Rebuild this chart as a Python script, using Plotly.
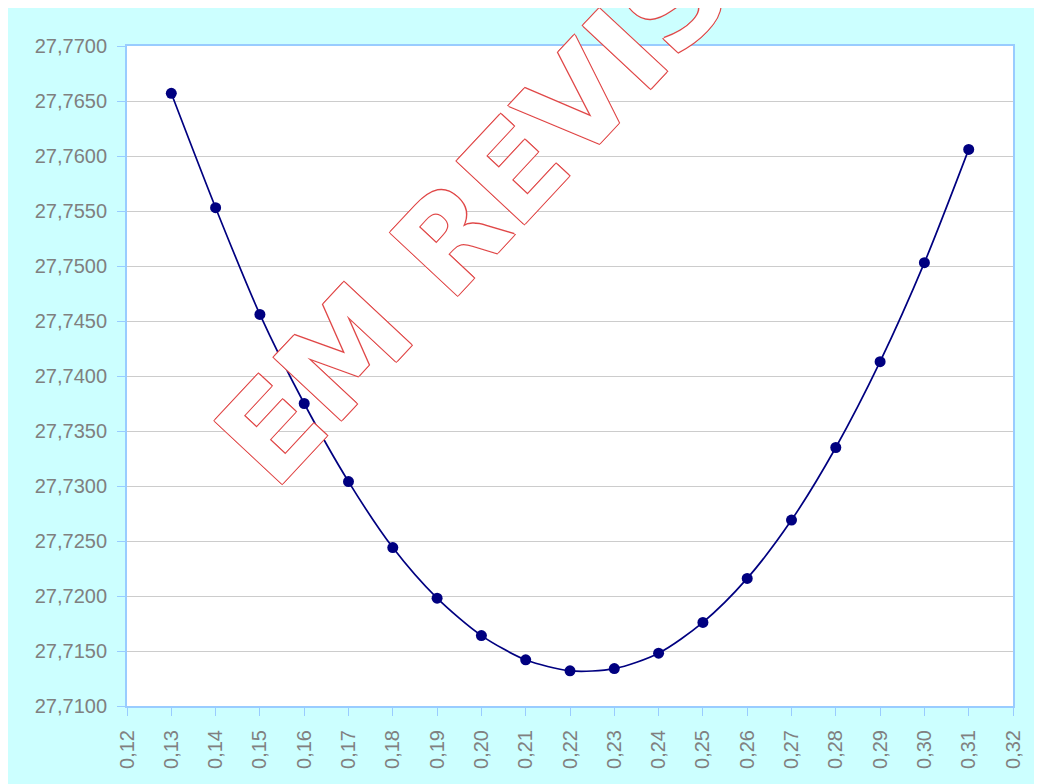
import plotly.graph_objects as go

# data
x_vals = [0.13, 0.14, 0.15, 0.16, 0.17, 0.18, 0.19, 0.20, 0.21, 0.22,
          0.23, 0.24, 0.25, 0.26, 0.27, 0.28, 0.29, 0.30, 0.31]
y_vals = [27.7657, 27.7553, 27.7456, 27.7375, 27.7304, 27.7244, 27.7198,
          27.7164, 27.7142, 27.7132, 27.7134, 27.7148, 27.7176, 27.7216,
          27.7269, 27.7335, 27.7413, 27.7503, 27.7606]
watermark = "EM REVISÃO"

NAVY = "#000080"
FRAME = "#99CCFF"
GREY = "#808080"
FONT = "Arial, Liberation Sans, sans-serif"

fig = go.Figure(go.Scatter(
    x=x_vals, y=y_vals, mode="lines+markers",
    line=dict(color=NAVY, width=1.7, shape="spline", smoothing=0.8),
    marker=dict(color=NAVY, size=11),
    showlegend=False, hoverinfo="x+y",
))

axis_common = dict(
    showline=True, linecolor=FRAME, linewidth=2, mirror=True,
    ticks="outside", tickcolor=FRAME, ticklen=8, tickwidth=1,
    tickfont=dict(family=FONT, size=20, color=GREY),
    ticklabelstandoff=6, zeroline=False,
)
fig.update_xaxes(range=[0.12, 0.32], dtick=0.01, tick0=0.12, tickformat=".2f",
                 tickangle=-90, showgrid=False, **axis_common)
fig.update_yaxes(range=[27.71, 27.77], dtick=0.005, tick0=27.71, tickformat=".4f",
                 showgrid=True, gridcolor="#CCCCCC", gridwidth=1, **axis_common)

# outlined watermark
fig.add_annotation(
    text=watermark, xref="paper", yref="paper", x=0.47, y=0.86,
    xanchor="center", yanchor="middle",
    showarrow=False, textangle=-47,
    font=dict(family="DejaVu Sans", size=127, weight="bold", color="white",
              shadow="1px 1px 0 #E04848, -1px -1px 0 #E04848, "
                     "1px -1px 0 #E04848, -1px 1px 0 #E04848"),
)

fig.update_layout(
    width=1042, height=784,
    margin=dict(l=119, r=37, t=38, b=86),
    paper_bgcolor="#CCFFFF", plot_bgcolor="white",
    separators=",.",
    font=dict(family=FONT),
)

fig.write_html("out.html")
